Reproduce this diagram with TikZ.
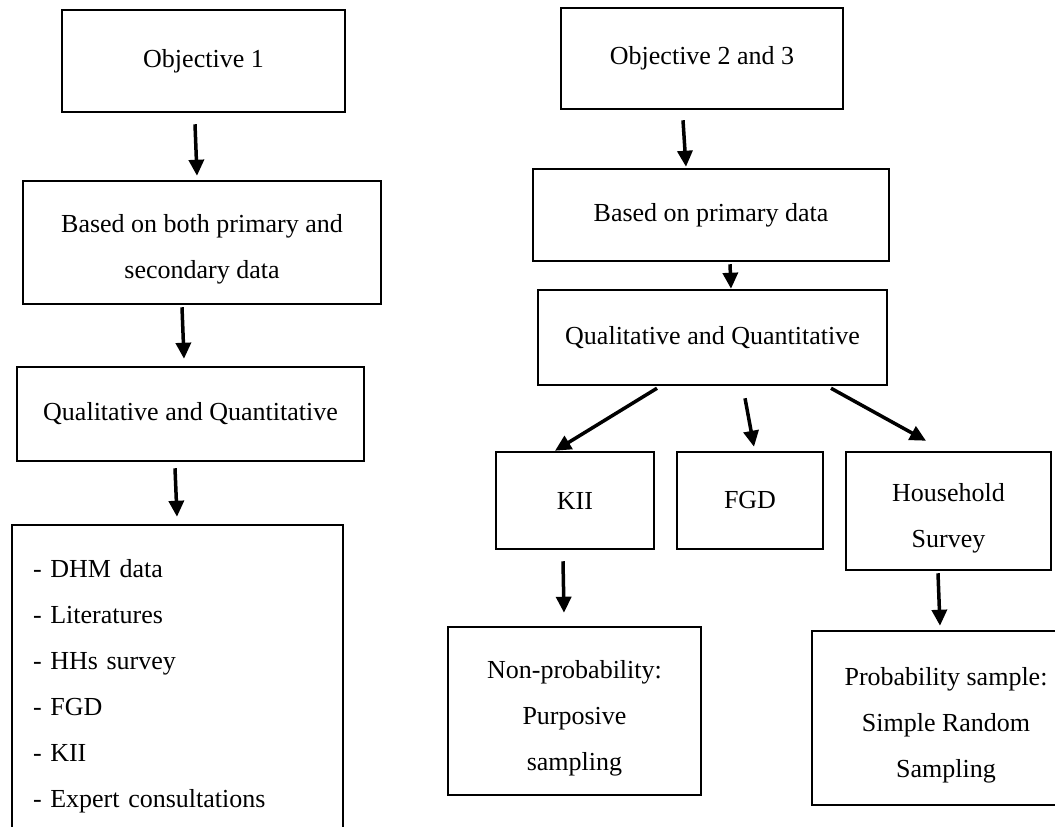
\documentclass[tikz,border=0pt]{standalone}
\usepackage{fontspec}
\setmainfont{Liberation Serif}
\usetikzlibrary{arrows.meta}
\newcommand{\firststrut}{\rule{0pt}{32pt}}

\begin{document}
\begin{tikzpicture}[
  x=1pt, y=-1pt,
  font=\fontsize{26}{46}\selectfont,
  box/.style={draw, line width=2.5pt, align=center, inner sep=0pt, minimum width=#1},
  arrow/.style={-{Triangle[length=16pt, width=15pt]}, line width=3.5pt}
]
\useasboundingbox (0,0) rectangle (1055,827);
\clip (0,0) rectangle (1055,827);

% objective 1
\node[box=283pt, minimum height=102pt] (obj1) at (203.5,61) {Objective 1};
\node[box=358pt, minimum height=123pt] (based1) at (202,242.5) {\firststrut Based on both primary and\\secondary data};
\node[box=347pt, minimum height=94pt] (qual1) at (190.5,414) {Qualitative and Quantitative};
\node[box=331pt, minimum height=322pt, text width=289pt, inner xsep=21pt, align=left] (srcs) at (177.5,686)
  {- DHM data\\- Literatures\\- HHs survey\\- FGD\\- KII\\- Expert consultations};

% objectives 2 and 3
\node[box=282pt, minimum height=101pt] (obj23) at (702,58.5) {Objective 2 and 3};
\node[box=356pt, minimum height=92pt] (based2) at (711,215) {Based on primary data};
\node[box=349pt, minimum height=95pt] (qual2) at (712.5,337.5) {Qualitative and Quantitative};
\node[box=158pt, minimum height=97pt] (kii) at (575,500.5) {KII};
\node[box=146pt, minimum height=97pt] (fgd) at (750,500.5) {FGD};
\node[box=205pt, minimum height=118pt] (hh) at (948.5,511) {\firststrut Household\\Survey};
\node[box=253pt, minimum height=168pt] (nonprob) at (574.5,711) {\firststrut Non-probability:\\Purposive\\sampling};
\node[box=268pt, minimum height=174pt] (prob) at (946,718) {\firststrut Probability sample:\\Simple Random\\Sampling};

\draw[arrow] ([xshift=-8.5pt, yshift=-11pt]obj1.south) -- ([xshift=-5pt, yshift=4pt]based1.north);
\draw[arrow] ([xshift=-20pt, yshift=-2pt]based1.south) -- ([xshift=-6.5pt, yshift=7pt]qual1.north);
\draw[arrow] ([xshift=-15.5pt, yshift=-6pt]qual1.south) -- ([xshift=-0.5pt, yshift=7pt]srcs.north);

\draw[arrow] ([xshift=-19pt, yshift=-10pt]obj23.south) -- ([xshift=-25pt, yshift=1pt]based2.north);
\draw[arrow] ([xshift=19pt, yshift=-2pt]based2.south) -- ([xshift=18.5pt]qual2.north);
\draw[arrow] ([xshift=-55.5pt, yshift=-2pt]qual2.south) -- ([xshift=-20pt]kii.north);
\draw[arrow] ([xshift=32.5pt, yshift=-12pt]qual2.south) -- ([xshift=4pt, yshift=4pt]fgd.north);
\draw[arrow] ([xshift=118.5pt, yshift=-2pt]qual2.south) -- ([xshift=-22.5pt, yshift=10pt]hh.north);
\draw[arrow] ([xshift=-12pt, yshift=-11pt]kii.south) -- ([xshift=-10.5pt, yshift=13pt]nonprob.north);
\draw[arrow] ([xshift=-10.5pt, yshift=-2pt]hh.south) -- ([xshift=-6pt, yshift=4pt]prob.north);
\end{tikzpicture}
\end{document}
